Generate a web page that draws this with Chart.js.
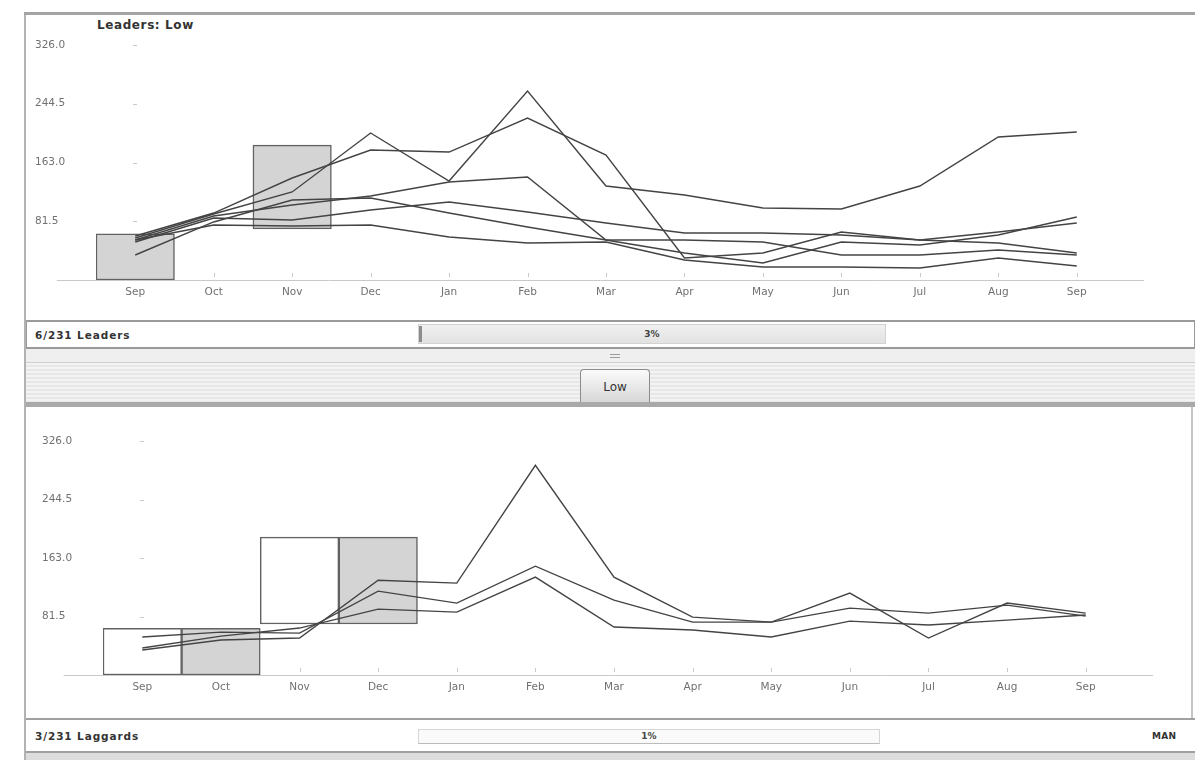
<!DOCTYPE html>
<html>
<head>
<meta charset="utf-8">
<title>Leaders / Laggards: Low</title>
<script src="https://cdn.jsdelivr.net/npm/chart.js@4.4.0/dist/chart.umd.min.js"></script>
<style>
  html, body { margin: 0; padding: 0; background: #fff; }
  body { width: 1195px; height: 760px; position: relative; overflow: hidden;
         font-family: "DejaVu Sans", Verdana, sans-serif; color: #333; }
  .abs { position: absolute; }
  canvas { position: absolute; }
  .lbl { font-size: 10.5px; font-weight: bold; color: #333; letter-spacing: 0.9px; }
  .pct { font-size: 9px; font-weight: bold; color: #444; text-align: center; }
</style>
</head>
<body>

<!-- frame -->
<div class="abs" style="left:24px;top:12px;width:2px;height:748px;background:#b2b2b2"></div>
<div class="abs" style="left:24px;top:12px;width:1171px;height:3px;background:#a4a4a4"></div>
<div class="abs" style="left:97px;top:18px;font-size:12px;font-weight:bold;color:#333;letter-spacing:0.6px">Leaders: Low</div>
<canvas id="topChart" width="1166" height="300" style="left:27px;top:16px"></canvas>

<!-- status bar 1 -->
<div class="abs" style="left:26px;top:320px;width:1169px;height:29px;box-sizing:border-box;border:1px solid #9a9a9a;border-top:2px solid #9a9a9a;border-bottom:2px solid #9a9a9a;background:#fff"></div>
<div class="abs lbl" style="left:35px;top:329px">6/231 Leaders</div>
<div class="abs" style="left:418px;top:324px;width:468px;height:20px;box-sizing:border-box;border:1px solid #d2d2d2;background:linear-gradient(#f0f0f0,#e2e2e2)"></div>
<div class="abs" style="left:419px;top:326px;width:3px;height:16px;background:#8c8c8c"></div>
<div class="abs pct" style="left:418px;top:329px;width:468px">3%</div>

<!-- splitter + tab strip -->
<div class="abs" style="left:26px;top:349px;width:1169px;height:13px;background:#efefef;border-bottom:1px solid #cfcfcf"></div>
<div class="abs" style="left:610px;top:354px;width:10px;height:1px;background:#9a9a9a"></div>
<div class="abs" style="left:610px;top:357px;width:10px;height:1px;background:#9a9a9a"></div>
<div class="abs" style="left:26px;top:363px;width:1169px;height:39px;background:repeating-linear-gradient(#f3f3f3 0 2px,#e7e7e7 2px 4px)"></div>
<div class="abs" style="left:580px;top:369px;width:70px;height:34px;box-sizing:border-box;border:1px solid #8c8c8c;border-bottom:none;border-radius:4px 4px 0 0;background:linear-gradient(#fbfbfb,#d6d6d6);font-size:12px;color:#333;text-align:center;line-height:34px">Low</div>
<div class="abs" style="left:26px;top:402px;width:1169px;height:5px;background:#a9a9a9"></div>
<div class="abs" style="left:1191px;top:407px;width:2px;height:312px;background:#c4c4c4"></div>
<canvas id="bottomChart" width="1164" height="300" style="left:27px;top:410px"></canvas>

<!-- status bar 2 -->
<div class="abs" style="left:26px;top:718px;width:1169px;height:35px;box-sizing:border-box;border-top:2px solid #a0a0a0;border-bottom:2px solid #a0a0a0;background:#fff"></div>
<div class="abs lbl" style="left:35px;top:730px">3/231 Laggards</div>
<div class="abs" style="left:418px;top:729px;width:462px;height:15px;box-sizing:border-box;border:1px solid #d6d6d6;border-bottom-color:#bbb;background:#fafafa"></div>
<div class="abs pct" style="left:418px;top:731px;width:462px">1%</div>
<div class="abs lbl" style="left:1152px;top:731px;font-size:9px;letter-spacing:0.3px">MAN</div>
<div class="abs" style="left:26px;top:753px;width:1169px;height:7px;background:#dcdcdc"></div>

<script>
// ---------- data ----------
const months = ['Sep', 'Oct', 'Nov', 'Dec', 'Jan', 'Feb', 'Mar', 'Apr', 'May', 'Jun', 'Jul', 'Aug', 'Sep'];
const yTicks = [0, 81.5, 163.0, 244.5, 326.0];

// leaders (6 lines)
const leaderA = [58.3, 91.5, 122.1, 203.9, 137.3, 262.2, 130.4, 117.9, 99.9, 98.5, 130.4, 198.4, 205.3];
const leaderB = [61.0, 92.9, 141.5, 180.3, 177.5, 224.7, 173.4, 30.5, 37.5, 66.6, 55.5, 66.6, 79.1];
const leaderC = [55.5, 88.8, 104.0, 116.5, 135.9, 142.9, 55.5, 37.5, 23.6, 52.7, 48.5, 62.4, 87.4];
const leaderD = [52.7, 86.0, 83.2, 97.1, 108.2, 94.3, 79.1, 65.2, 65.2, 62.4, 55.5, 51.3, 37.5];
const leaderE = [34.7, 80.5, 111.0, 113.7, 92.9, 73.5, 55.5, 55.5, 52.7, 34.7, 34.7, 41.6, 34.7];
const leaderF = [55.5, 76.3, 74.9, 76.3, 59.6, 51.3, 52.7, 27.7, 18.0, 18.0, 16.6, 30.5, 19.4];
const leaderBoxes = [[0, 64], null, [71, 187]];

// laggards (3 lines)
const laggardP = [34.8, 48.7, 51.5, 132.1, 128.0, 292.1, 136.3, 80.7, 73.7, 114.1, 51.5, 100.2, 86.2];
const laggardQ = [52.9, 59.8, 58.4, 116.8, 100.2, 151.6, 104.3, 73.7, 73.7, 93.2, 86.2, 97.4, 82.1];
const laggardR = [37.6, 54.2, 65.4, 91.8, 87.6, 136.3, 66.8, 62.6, 52.9, 75.1, 69.6, 76.5, 83.5];
const laggardBoxes = [[0, 65], [0, 65], [71, 192], [71, 192]];

// ---------- chart setup ----------
const axisDecor = {
    id: 'axisDecor',
    beforeDatasetsDraw(chart) {
        const { ctx, chartArea, scales: { x, y } } = chart;
        const y0 = y.getPixelForValue(0);
        const half = (chartArea.right - chartArea.left) / months.length / 2;
        ctx.save();
        ctx.strokeStyle = '#c9c9c9';
        ctx.lineWidth = 1;
        ctx.beginPath();
        ctx.moveTo(chartArea.left - half, y0 + 0.5);
        ctx.lineTo(chartArea.right + 28, y0 + 0.5);
        // small tick marks above the axis
        months.forEach((m, i) => {
            const px = Math.round(x.getPixelForValue(i)) + 0.5;
            ctx.moveTo(px, y0 - 7);
            ctx.lineTo(px, y0 - 3);
        });
        // small marks for the value ticks
        const xs = Math.round(x.getPixelForValue(0));
        yTicks.slice(1).forEach(v => {
            const py = Math.round(y.getPixelForValue(v)) + 0.5;
            ctx.moveTo(xs - 2, py);
            ctx.lineTo(xs + 2, py);
        });
        ctx.stroke();
        ctx.restore();
    }
};

function lineSet(data) {
    return { type: 'line', data, borderColor: '#444', borderWidth: 1.4, pointRadius: 0, tension: 0, fill: false, order: 1 };
}

function makeChart(id, lines, boxes, boxFill, pad) {
    return new Chart(document.getElementById(id).getContext('2d'), {
        type: 'bar',
        data: {
            labels: months,
            datasets: [
                {
                    data: boxes, backgroundColor: boxFill, borderColor: '#626262', borderWidth: 1.5,
                    borderSkipped: false, barPercentage: 1, categoryPercentage: 1, order: 2
                },
                ...lines.map(lineSet)
            ]
        },
        options: {
            responsive: false,
            animation: false,
            layout: { padding: pad },
            plugins: { legend: { display: false }, tooltip: { enabled: false } },
            scales: {
                x: {
                    offset: true,
                    grid: { display: false, drawTicks: false },
                    border: { display: false },
                    ticks: { color: '#707070', font: { family: 'DejaVu Sans', size: 10.5 }, padding: 6, maxRotation: 0, autoSkip: false },
                    afterFit: s => { s.height = pad.xh; }
                },
                y: {
                    min: 0, max: 326,
                    grid: { display: false, drawTicks: false },
                    border: { display: false },
                    afterBuildTicks: s => { s.ticks = yTicks.map(v => ({ value: v })); },
                    afterFit: s => { s.width = 61; },
                    ticks: {
                        crossAlign: 'far', color: '#707070', font: { family: 'DejaVu Sans', size: 10.5 },
                        callback: v => (v === 0 ? '' : Number(v).toFixed(1))
                    }
                }
            }
        },
        plugins: [axisDecor]
    });
}

const topChart = makeChart('topChart',
    [leaderA, leaderB, leaderC, leaderD, leaderE, leaderF],
    leaderBoxes, '#d4d4d4',
    { left: 8, right: 77, top: 29, bottom: 0, xh: 36 });

const bottomChart = makeChart('bottomChart',
    [laggardP, laggardQ, laggardR],
    laggardBoxes, ['#ffffff', '#d4d4d4', '#ffffff', '#d4d4d4'],
    { left: 15, right: 66, top: 31, bottom: 0, xh: 35 });
</script>
</body>
</html>
